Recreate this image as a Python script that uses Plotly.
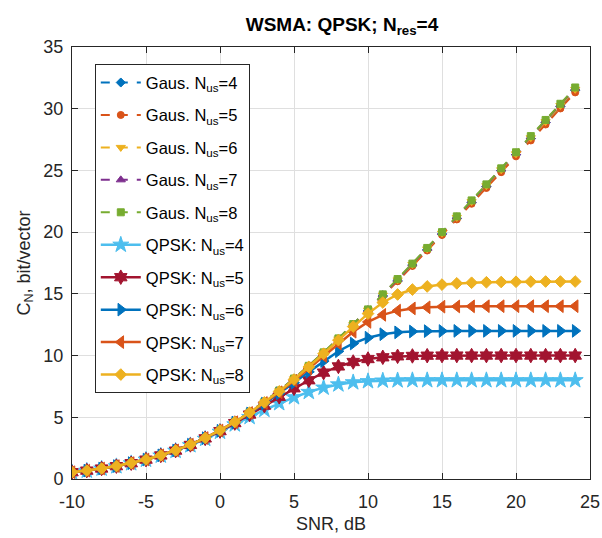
import plotly.graph_objects as go

snr = list(range(-10, 25))

gaus4 = [0.55, 0.68, 0.85, 1.05, 1.29, 1.58, 1.92, 2.32, 2.79, 3.33, 3.94, 4.63, 5.40, 6.24, 7.14, 8.11, 9.14, 10.21, 11.33, 12.48, 13.66, 14.87, 16.10, 17.34, 18.60, 19.86, 21.13, 22.41, 23.69, 24.98, 26.27, 27.57, 28.87, 30.17, 31.48]
gaus5 = [0.54, 0.67, 0.84, 1.04, 1.28, 1.57, 1.91, 2.31, 2.78, 3.32, 3.93, 4.61, 5.38, 6.22, 7.12, 8.08, 9.10, 10.17, 11.28, 12.42, 13.60, 14.80, 16.02, 17.26, 18.51, 19.77, 21.03, 22.30, 23.58, 24.86, 26.14, 27.43, 28.72, 30.02, 31.32]
gaus6 = [0.55, 0.68, 0.85, 1.05, 1.29, 1.58, 1.92, 2.32, 2.79, 3.33, 3.94, 4.63, 5.40, 6.24, 7.15, 8.12, 9.15, 10.23, 11.35, 12.50, 13.69, 14.90, 16.13, 17.38, 18.64, 19.91, 21.19, 22.47, 23.76, 25.05, 26.35, 27.65, 28.95, 30.26, 31.57]
gaus7 = [0.55, 0.68, 0.85, 1.05, 1.29, 1.58, 1.92, 2.32, 2.79, 3.33, 3.94, 4.63, 5.40, 6.25, 7.16, 8.13, 9.16, 10.24, 11.37, 12.53, 13.72, 14.93, 16.17, 17.42, 18.68, 19.96, 21.24, 22.53, 23.82, 25.12, 26.42, 27.73, 29.04, 30.35, 31.67]
gaus8 = [0.55, 0.68, 0.85, 1.05, 1.29, 1.58, 1.92, 2.32, 2.79, 3.33, 3.94, 4.63, 5.41, 6.26, 7.17, 8.14, 9.17, 10.26, 11.39, 12.55, 13.74, 14.96, 16.20, 17.45, 18.72, 20.00, 21.28, 22.57, 23.87, 25.17, 26.47, 27.78, 29.09, 30.40, 31.72]

qpsk4 = [0.54, 0.67, 0.84, 1.03, 1.27, 1.56, 1.89, 2.28, 2.73, 3.25, 3.82, 4.42, 5.02, 5.60, 6.14, 6.62, 7.05, 7.40, 7.66, 7.83, 7.92, 7.97, 7.99, 8.0, 8.0, 8.0, 8.0, 8.0, 8.0, 8.0, 8.0, 8.0, 8.0, 8.0, 8.0]
qpsk5 = [0.55, 0.68, 0.85, 1.04, 1.28, 1.57, 1.91, 2.30, 2.76, 3.29, 3.88, 4.53, 5.22, 5.94, 6.66, 7.35, 8.00, 8.62, 9.12, 9.48, 9.72, 9.86, 9.94, 9.97, 9.99, 10.0, 10.0, 10.0, 10.0, 10.0, 10.0, 10.0, 10.0, 10.0, 10.0]
qpsk6 = [0.55, 0.68, 0.85, 1.05, 1.29, 1.58, 1.92, 2.31, 2.78, 3.31, 3.91, 4.58, 5.31, 6.10, 6.93, 7.80, 8.68, 9.55, 10.35, 10.98, 11.45, 11.73, 11.88, 11.95, 11.98, 11.99, 12.0, 12.0, 12.0, 12.0, 12.0, 12.0, 12.0, 12.0, 12.0]
qpsk7 = [0.55, 0.68, 0.85, 1.05, 1.29, 1.58, 1.92, 2.32, 2.78, 3.32, 3.93, 4.60, 5.35, 6.16, 7.03, 7.96, 8.95, 9.97, 10.98, 11.93, 12.73, 13.30, 13.64, 13.82, 13.91, 13.96, 13.98, 13.99, 14.0, 14.0, 14.0, 14.0, 14.0, 14.0, 14.0]
qpsk8 = [0.55, 0.68, 0.85, 1.05, 1.29, 1.58, 1.92, 2.32, 2.79, 3.33, 3.94, 4.62, 5.38, 6.21, 7.10, 8.06, 9.08, 10.15, 11.25, 12.35, 13.40, 14.30, 14.95, 15.35, 15.60, 15.75, 15.85, 15.90, 15.94, 15.96, 15.98, 15.99, 16.0, 16.0, 16.0]

labels_gaus = ["Gaus. N<sub>us</sub>=4", "Gaus. N<sub>us</sub>=5", "Gaus. N<sub>us</sub>=6",
               "Gaus. N<sub>us</sub>=7", "Gaus. N<sub>us</sub>=8"]
labels_qpsk = ["QPSK: N<sub>us</sub>=4", "QPSK: N<sub>us</sub>=5", "QPSK: N<sub>us</sub>=6",
               "QPSK: N<sub>us</sub>=7", "QPSK: N<sub>us</sub>=8"]

x_ticks = [-10, -5, 0, 5, 10, 15, 20, 25]
x_ticktext = ["-10", "-5", "0", "5", "10", "15", "20", "25"]
y_ticks = [0, 5, 10, 15, 20, 25, 30, 35]
y_ticktext = ["0", "5", "10", "15", "20", "25", "30", "35"]

FONT = "Liberation Sans, Arial, sans-serif"

fig = go.Figure()

gaus_series = [gaus4, gaus5, gaus6, gaus7, gaus8]
gaus_colors = ["#0072BD", "#D95319", "#EDB120", "#7E2F8E", "#77AC30"]
gaus_symbols = ["diamond", "circle", "triangle-down", "triangle-up", "square"]
gaus_sizes = [7, 7, 8, 8, 7]
for i, (ys, lab, c, s, sz) in enumerate(zip(gaus_series, labels_gaus, gaus_colors, gaus_symbols, gaus_sizes)):
    fig.add_trace(go.Scatter(
        x=snr, y=ys, name=lab, mode="lines+markers", legendgroup="g%d" % i,
        line=dict(color=c, width=2, dash="dash"),
        marker=dict(symbol=s, size=sz, color=c, line=dict(color=c, width=1)),
    ))

qpsk_series = [qpsk4, qpsk5, qpsk6, qpsk7, qpsk8]
qpsk_colors = ["#4DBEEE", "#A2142F", "#0072BD", "#D95319", "#EDB120"]
qpsk_symbols = ["star", "hexagram", "triangle-right", "triangle-left", "diamond"]
qpsk_sizes = [12, 11, 11, 11, 9]
for i, (ys, lab, c, s, sz) in enumerate(zip(qpsk_series, labels_qpsk, qpsk_colors, qpsk_symbols, qpsk_sizes)):
    fig.add_trace(go.Scatter(
        x=snr, y=ys, name=lab, mode="lines+markers", legendgroup="q%d" % i,
        line=dict(color=c, width=2.5),
        marker=dict(symbol=s, size=sz, color=c, line=dict(color=c, width=1)),
    ))

axis_common = dict(
    showgrid=True, gridcolor="#DFDFDF", gridwidth=1,
    showline=True, linecolor="#262626", linewidth=1, mirror="ticks",
    ticks="inside", ticklen=6, tickcolor="#262626",
    tickfont=dict(family=FONT, size=18, color="#262626"),
    zeroline=False, automargin=False,
)

fig.update_layout(
    width=602, height=538,
    margin=dict(l=72, r=12, t=47, b=59),
    paper_bgcolor="white", plot_bgcolor="white",
    font=dict(family=FONT, color="#262626"),
    title=dict(text="<b>WSMA: QPSK; N<sub>res</sub>=4</b>", x=342 / 602, xanchor="center",
               y=1 - 24 / 538, yanchor="middle", font=dict(family=FONT, size=19, color="black")),
    xaxis=dict(range=[-10, 25], tickvals=x_ticks, ticktext=x_ticktext, ticklabelstandoff=6,
               title=dict(text="SNR, dB", font=dict(family=FONT, size=18), standoff=6), **axis_common),
    yaxis=dict(range=[0, 35], tickvals=y_ticks, ticktext=y_ticktext, ticklabelstandoff=4,
               title=dict(text="C<sub>N</sub>, bit/vector", font=dict(family=FONT, size=18), standoff=8), **axis_common),
    legend=dict(x=0.044, y=0.96, xanchor="left", yanchor="top",
                bgcolor="white", bordercolor="#262626", borderwidth=1,
                font=dict(family=FONT, size=16.5, color="black"), tracegroupgap=8, itemwidth=40),
    showlegend=True,
)

# remove the browser's default 8px body margin so the figure fills the window exactly
fig.write_html("out.html", config={"displayModeBar": False},
               post_script="document.body.style.margin='0px';document.body.style.overflow='hidden';")
